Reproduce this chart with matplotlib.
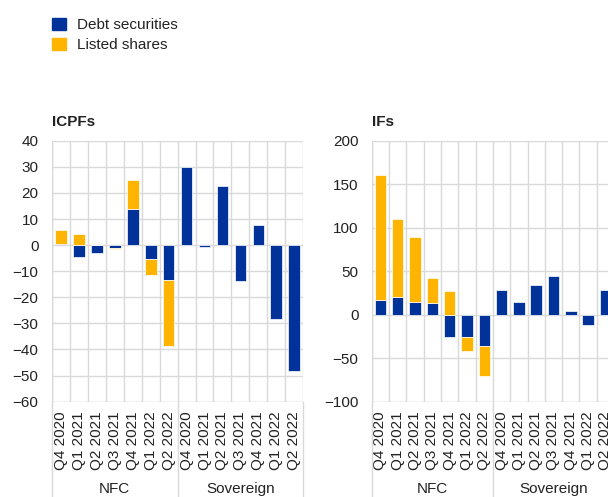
"""ICPFs and IFs net purchases by sector, debt securities vs listed shares."""
import numpy as np
import matplotlib.pyplot as plt
from matplotlib.patches import Patch

plt.rcParams.update({
    "font.family": ["Liberation Sans", "DejaVu Sans"],
    "font.size": 11,
    "text.color": "#222222",
    "xtick.color": "#222222",
    "ytick.color": "#222222",
})

BLUE = "#003299"
YELLOW = "#FFB400"
GRID = "#d9d9d9"

quarters = ["Q4 2020", "Q1 2021", "Q2 2021", "Q3 2021", "Q4 2021", "Q1 2022", "Q2 2022"]
groups = ["NFC", "Sovereign"]
labels = quarters * 2

icpf_debt = [0.3, -4.7, -3.2, -1.0, 13.8, -5.3, -13.3,
             30.0, -0.8, 22.8, -13.7, 7.6, -28.3, -48.2]
icpf_shares = [5.6, 4.4, 0.0, -0.3, 11.3, -6.3, -25.4,
               np.nan, np.nan, np.nan, np.nan, np.nan, np.nan, np.nan]

if_debt = [16.5, 20.4, 14.2, 13.0, -25.4, -25.8, -36.2,
           28.5, 14.6, 34.2, 44.6, 4.2, -11.5, 28.5]
if_shares = [144.5, 90.0, 74.6, 28.9, 27.7, -15.7, -34.6,
             np.nan, np.nan, np.nan, np.nan, np.nan, np.nan, np.nan]

fig = plt.figure(figsize=(6.08, 4.97), dpi=100)
ax1 = fig.add_axes([0.0850, 0.1918, 0.4140, 0.5250])
ax2 = fig.add_axes([0.6113, 0.1918, 0.3987, 0.5250])


def draw(ax, title, debt, shares, ylim, step):
    x = np.arange(len(labels))
    debt = np.array(debt, dtype=float)
    shares = np.array(shares, dtype=float)
    ax.bar(x, debt, width=0.66, color=BLUE, edgecolor="white", linewidth=0.5, zorder=3)
    ok = ~np.isnan(shares)
    base = np.where(np.sign(shares) == np.sign(debt), debt, 0.0)
    ax.bar(x[ok], shares[ok], bottom=base[ok], width=0.66, color=YELLOW,
           edgecolor="white", linewidth=0.5, zorder=3)

    ax.set_xlim(-0.5, len(labels) - 0.5)
    ax.set_ylim(*ylim)
    ax.set_yticks(np.arange(ylim[0], ylim[1] + step, step))
    ax.set_xticks(x)
    ax.set_xticklabels(labels, rotation=90, fontsize=11, va="top")
    ax.set_xticks(np.arange(-0.5, len(labels), 1), minor=True)
    ax.tick_params(axis="both", which="both", length=0)
    ax.tick_params(axis="y", pad=9.5, labelsize=11)
    ax.tick_params(axis="x", pad=7)
    ax.grid(axis="y", color=GRID, lw=1, zorder=0)
    ax.grid(axis="x", which="minor", color=GRID, lw=1, zorder=0)
    ax.grid(axis="x", which="major", visible=False)
    for s in ax.spines.values():
        s.set_visible(False)
    ax.axvline(-0.5, color=GRID, lw=1, zorder=0)
    ax.axhline(ylim[0], color=GRID, lw=1, zorder=0)

    # group separators and labels below the axis
    tr = ax.get_xaxis_transform()
    for xp in [-0.5, 6.5, 13.5]:
        ax.plot([xp, xp], [0, -0.4], color=GRID, lw=1, transform=tr, clip_on=False)
    ax.text(3, -0.335, groups[0], transform=tr, ha="center", va="center", fontsize=11)
    ax.text(10, -0.335, groups[1], transform=tr, ha="center", va="center", fontsize=11)

    ax.text(0, 1.07, title, transform=ax.transAxes, ha="left", va="center",
            fontsize=11, fontweight="bold")


draw(ax1, "ICPFs", icpf_debt, icpf_shares, (-60, 40), 10)
draw(ax2, "IFs", if_debt, if_shares, (-100, 200), 50)

handles = [Patch(color=BLUE, label="Debt securities"),
           Patch(color=YELLOW, label="Listed shares")]
fig.legend(handles=handles, loc="upper left", bbox_to_anchor=(0.063, 0.992),
           frameon=False, fontsize=11, handlelength=0.9, handleheight=0.9,
           handletextpad=0.75, labelspacing=0.35)

plt.savefig("out.png", dpi=100)
plt.close()
